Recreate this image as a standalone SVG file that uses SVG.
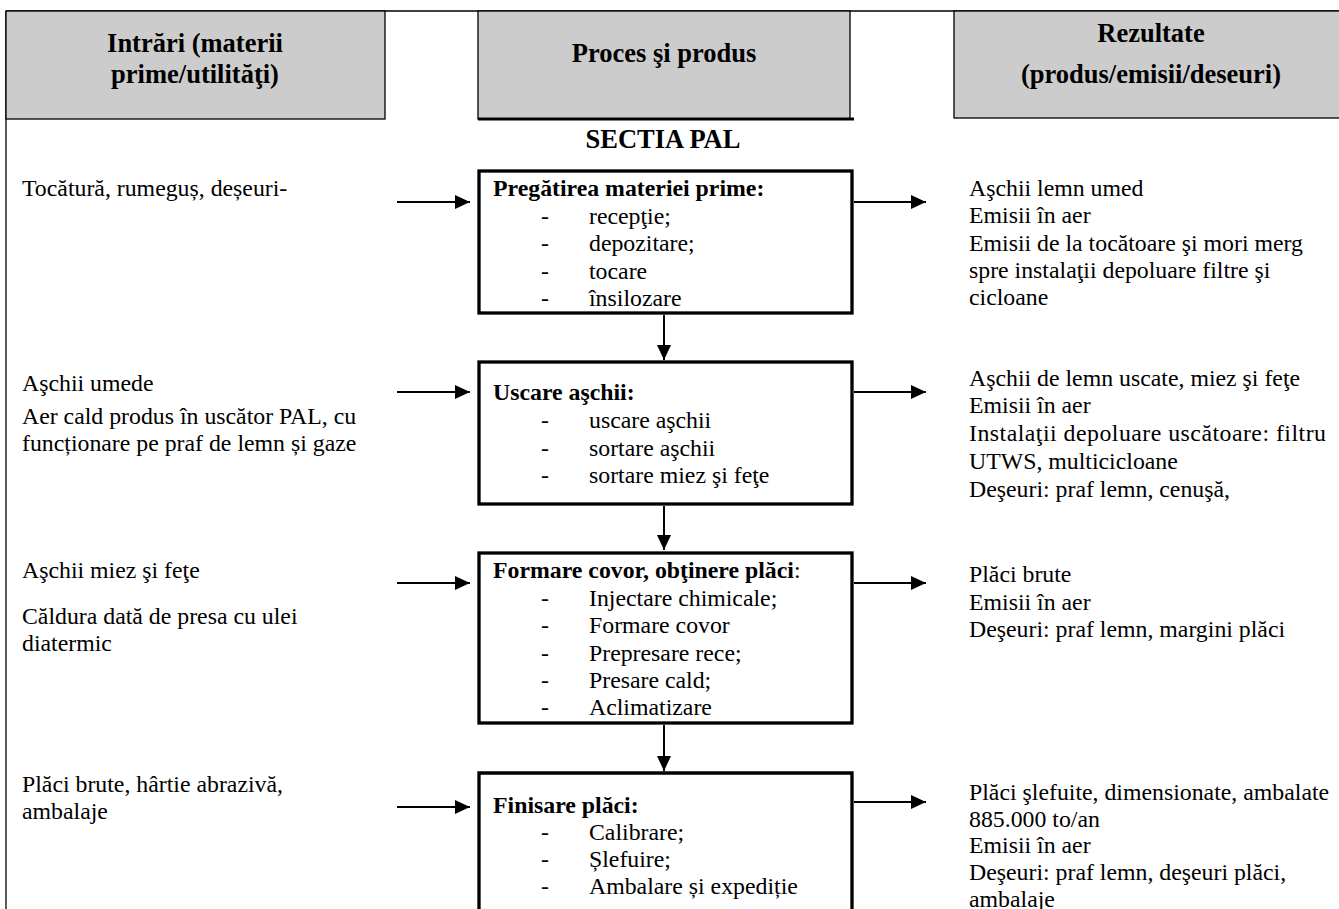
<svg xmlns="http://www.w3.org/2000/svg" width="1339" height="909" viewBox="0 0 1339 909">
<defs>
<style>
text{font-family:"Liberation Serif","Times New Roman",serif;fill:#000}
.b{font-size:23.8px}
.t{font-size:23.8px;font-weight:bold}
.h{font-size:26.5px;font-weight:bold;text-anchor:middle}
.hdr{fill:#cccccc;stroke:#000;stroke-width:1.3}
.box{fill:#fff;stroke:#000;stroke-width:3.3}
.ln{stroke:#000;stroke-width:1.3;fill:none}
.ar{stroke:#000;stroke-width:2;fill:none;marker-end:url(#ah)}
</style>
<marker id="ah" markerUnits="userSpaceOnUse" markerWidth="16" markerHeight="14" refX="15" refY="7" orient="auto">
<path d="M0,0 L15,7 L0,14 Z" fill="#000"/>
</marker>
</defs>
<rect width="1339" height="909" fill="#fff"/>

<g id="frame">
<line class="ln" x1="6" y1="11" x2="1339" y2="11"/>
<line class="ln" x1="6" y1="11" x2="6" y2="909"/>
</g>

<g id="hdr-intrari">
<rect class="hdr" x="6" y="11" width="379" height="108"/>
<text class="h" x="195" y="52">Intrări (materii</text>
<text class="h" x="195" y="83">prime/utilităţi)</text>
</g>
<g id="hdr-proces">
<rect class="hdr" x="478" y="11" width="372" height="108"/>
<line x1="478" y1="119" x2="854" y2="119" stroke="#000" stroke-width="3"/>
<text class="h" x="664" y="62">Proces şi produs</text>
</g>
<g id="hdr-rezultate">
<rect class="hdr" x="954" y="11" width="395" height="107"/>
<text class="h" x="1151" y="42">Rezultate</text>
<text class="h" x="1151" y="83">(produs/emisii/deseuri)</text>
</g>
<g id="sectia">
<text class="h" x="663" y="148">SECTIA PAL</text>
</g>

<g id="in1"><text class="b" x="22" y="196">Tocătură, rumeguș, deșeuri-</text></g>
<g id="in2">
<text class="b" x="22" y="391">Aşchii umede</text>
<text class="b" x="22" y="424">Aer cald produs în uscător PAL, cu</text>
<text class="b" x="22" y="451">funcționare pe praf de lemn și gaze</text>
</g>
<g id="in3">
<text class="b" x="22" y="578">Aşchii miez şi feţe</text>
<text class="b" x="22" y="624">Căldura dată de presa cu ulei</text>
<text class="b" x="22" y="651">diatermic</text>
</g>
<g id="in4">
<text class="b" x="22" y="792">Plăci brute, hârtie abrazivă,</text>
<text class="b" x="22" y="819">ambalaje</text>
</g>

<g id="p1">
<rect class="box" x="479" y="171" width="373" height="142"/>
<text class="t" x="493" y="196">Pregătirea materiei prime:</text>
<text class="b" x="541" y="223.5">-</text><text class="b" x="589" y="223.5">recepţie;</text>
<text class="b" x="541" y="251">-</text><text class="b" x="589" y="251">depozitare;</text>
<text class="b" x="541" y="278.5">-</text><text class="b" x="589" y="278.5">tocare</text>
<text class="b" x="541" y="306">-</text><text class="b" x="589" y="306">însilozare</text>
</g>
<g id="p2">
<rect class="box" x="479" y="362" width="373" height="142"/>
<text class="t" x="493" y="400">Uscare aşchii:</text>
<text class="b" x="541" y="428">-</text><text class="b" x="589" y="428">uscare aşchii</text>
<text class="b" x="541" y="455.5">-</text><text class="b" x="589" y="455.5">sortare aşchii</text>
<text class="b" x="541" y="483">-</text><text class="b" x="589" y="483">sortare miez şi feţe</text>
</g>
<g id="p3">
<rect class="box" x="479" y="553" width="373" height="170"/>
<text x="493" y="578"><tspan class="t">Formare covor, obţinere plăci</tspan><tspan class="b">:</tspan></text>
<text class="b" x="541" y="606">-</text><text class="b" x="589" y="606">Injectare chimicale;</text>
<text class="b" x="541" y="633">-</text><text class="b" x="589" y="633">Formare covor</text>
<text class="b" x="541" y="661">-</text><text class="b" x="589" y="661">Prepresare rece;</text>
<text class="b" x="541" y="688">-</text><text class="b" x="589" y="688">Presare cald;</text>
<text class="b" x="541" y="715">-</text><text class="b" x="589" y="715">Aclimatizare</text>
</g>
<g id="p4">
<path class="box" d="M479,912 L479,773 L852,773 L852,912"/>
<text class="t" x="493" y="813">Finisare plăci:</text>
<text class="b" x="541" y="840">-</text><text class="b" x="589" y="840">Calibrare;</text>
<text class="b" x="541" y="867">-</text><text class="b" x="589" y="867">Șlefuire;</text>
<text class="b" x="541" y="894">-</text><text class="b" x="589" y="894">Ambalare și expediție</text>
</g>

<g id="out1">
<text class="b" x="969" y="196">Aşchii lemn umed</text>
<text class="b" x="969" y="223">Emisii în aer</text>
<text class="b" x="969" y="251">Emisii de la tocătoare şi mori merg</text>
<text class="b" x="969" y="278">spre instalaţii depoluare filtre şi</text>
<text class="b" x="969" y="305">cicloane</text>
</g>
<g id="out2">
<text class="b" x="969" y="386">Aşchii de lemn uscate, miez şi feţe</text>
<text class="b" x="969" y="413">Emisii în aer</text>
<text class="b" x="969" y="441" textLength="357" lengthAdjust="spacing">Instalaţii depoluare uscătoare: filtru</text>
<text class="b" x="969" y="469">UTWS, multicicloane</text>
<text class="b" x="969" y="497">Deşeuri: praf lemn, cenuşă,</text>
</g>
<g id="out3">
<text class="b" x="969" y="582">Plăci brute</text>
<text class="b" x="969" y="610">Emisii în aer</text>
<text class="b" x="969" y="637">Deşeuri: praf lemn, margini plăci</text>
</g>
<g id="out4">
<text class="b" x="969" y="800">Plăci şlefuite, dimensionate, ambalate</text>
<text class="b" x="969" y="827">885.000 to/an</text>
<text class="b" x="969" y="853">Emisii în aer</text>
<text class="b" x="969" y="880">Deşeuri: praf lemn, deşeuri plăci,</text>
<text class="b" x="969" y="907">ambalaje</text>
</g>

<g id="connectors">
<line class="ar" x1="397" y1="202" x2="470" y2="202"/>
<line class="ar" x1="397" y1="392" x2="470" y2="392"/>
<line class="ar" x1="397" y1="583" x2="470" y2="583"/>
<line class="ar" x1="397" y1="807" x2="470" y2="807"/>
<line class="ar" x1="854" y1="202" x2="926" y2="202"/>
<line class="ar" x1="854" y1="392" x2="926" y2="392"/>
<line class="ar" x1="854" y1="583" x2="926" y2="583"/>
<line class="ar" x1="854" y1="802" x2="926" y2="802"/>
<line class="ar" x1="664" y1="315" x2="664" y2="360"/>
<line class="ar" x1="664" y1="506" x2="664" y2="550"/>
<line class="ar" x1="664" y1="725" x2="664" y2="771"/>
</g>
</svg>
